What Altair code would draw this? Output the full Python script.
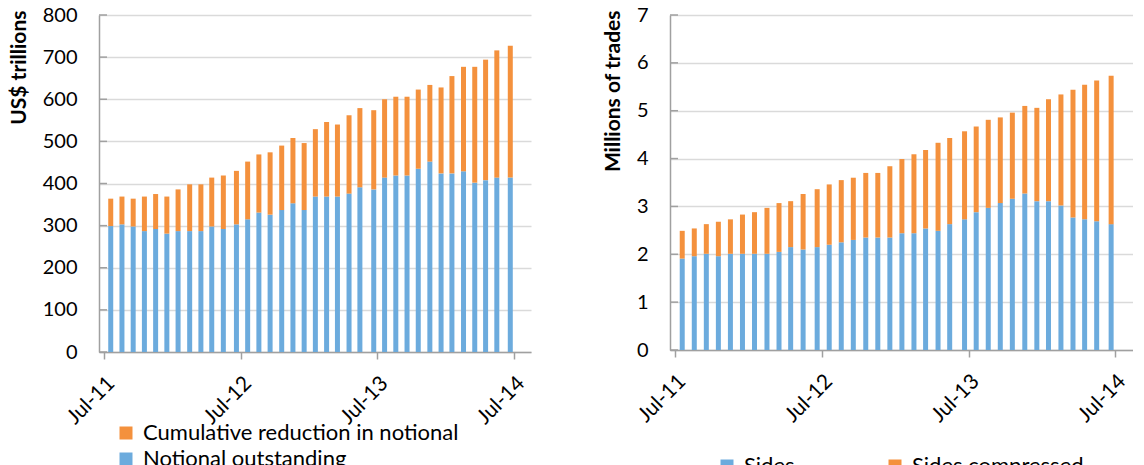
import altair as alt
import pandas as pd

# ---------------- data ----------------
dates = [
    "2011-07-19", "2011-08-18", "2011-09-17", "2011-10-17", "2011-11-16", "2011-12-16",
    "2012-01-15", "2012-02-15", "2012-03-16", "2012-04-14", "2012-05-15", "2012-06-19",
    "2012-07-19", "2012-08-18", "2012-09-17", "2012-10-18", "2012-11-17", "2012-12-17",
    "2013-01-16", "2013-02-15", "2013-03-16", "2013-04-16", "2013-05-15", "2013-06-21",
    "2013-07-20", "2013-08-19", "2013-09-18", "2013-10-18", "2013-11-18", "2013-12-18",
    "2014-01-16", "2014-02-16", "2014-03-18", "2014-04-16", "2014-05-16", "2014-06-21",
]
notional_outstanding = [299, 303, 298, 287, 292, 281, 287, 287, 287, 298, 292, 303,
                        315, 331, 326, 337, 353, 337, 369, 369, 369, 376, 391, 386,
                        414, 419, 419, 435, 452, 424, 424, 429, 402, 408, 414, 414]
cumulative_reduction = [65, 66, 66, 82, 83, 88, 99, 111, 111, 116, 127, 127,
                        137, 138, 148, 153, 155, 159, 160, 177, 171, 186, 188, 188,
                        186, 187, 187, 188, 182, 204, 231, 248, 275, 286, 302, 313]
sides = [1.91, 1.96, 2.01, 1.96, 2.01, 2.01, 2.01, 2.01, 2.05, 2.15, 2.10, 2.15,
         2.20, 2.25, 2.30, 2.35, 2.35, 2.35, 2.44, 2.44, 2.54, 2.49, 2.63, 2.73,
         2.88, 2.97, 3.07, 3.16, 3.27, 3.11, 3.11, 3.02, 2.77, 2.73, 2.69, 2.63]
sides_compressed = [0.58, 0.58, 0.62, 0.72, 0.72, 0.82, 0.87, 0.96, 1.02, 0.96, 1.16, 1.21,
                    1.26, 1.30, 1.30, 1.35, 1.35, 1.49, 1.55, 1.65, 1.64, 1.84, 1.80, 1.84,
                    1.79, 1.84, 1.79, 1.80, 1.83, 1.95, 2.13, 2.32, 2.67, 2.81, 2.94, 3.10]

left_series = ["Cumulative reduction in notional", "Notional outstanding"]
right_series = ["Sides", "Sides compressed"]
left_ticks = [0, 100, 200, 300, 400, 500, 600, 700, 800]
right_ticks = [0, 1, 2, 3, 4, 5, 6, 7]
tick_years = [2011, 2012, 2013, 2014]

FONT = "Lato"
BLUE = "#6CABDD"
ORANGE = "#F4913D"
AXIS_GREY = "#A0A0A0"
GRID_GREY = "#DADADA"

n = len(dates)
left_df = pd.DataFrame({
    "date": dates + dates,
    "value": notional_outstanding + cumulative_reduction,
    "series": [left_series[1]] * n + [left_series[0]] * n,
    "ord": [0] * n + [1] * n,
})
right_df = pd.DataFrame({
    "date": dates + dates,
    "value": sides + sides_compressed,
    "series": [right_series[0]] * n + [right_series[1]] * n,
    "ord": [0] * n + [1] * n,
})
left_tick_df = pd.DataFrame({"value": left_ticks})
right_tick_df = pd.DataFrame({"value": right_ticks})


def x_enc():
    return alt.X(
        "date:T",
        scale=alt.Scale(
            type="utc",
            domain=[alt.DateTime(year=2011, month=7, date=1, utc=True),
                    alt.DateTime(year=2014, month=8, date=2, utc=True)],
        ),
        axis=alt.Axis(
            values=[alt.DateTime(year=y, month=7, date=1, utc=True) for y in tick_years],
            labelExpr="utcFormat(datum.value, '%b-%y')",
            labelAngle=-45, labelAlign="right",
            labelBaseline="middle", labelPadding=21, labelOffset=7,
            labelFontSize=21, tickSize=7, tickColor=AXIS_GREY, tickWidth=1.5,
            domainColor=AXIS_GREY, domainWidth=1.5, grid=False, title=None,
            labelOverlap=False, labelFlush=False,
        ),
    )


def panel(df, tick_df, ticks, ymax, title, series, colors, legend):
    bars = alt.Chart(df).mark_bar(size=5).encode(
        x=x_enc(),
        y=alt.Y(
            "value:Q", stack=True, scale=alt.Scale(domain=[0, ymax], nice=False),
            axis=alt.Axis(
                values=ticks, title=title, titleAnchor="end", titleFontWeight="bold",
                titleFontSize=21, titlePadding=13, titleY=-5,
                labelFontSize=20, labelPadding=22,
                ticks=False, gridColor=GRID_GREY, gridWidth=1.5,
                domainColor=AXIS_GREY, domainWidth=1.5,
            ),
        ),
        color=alt.Color("series:N", scale=alt.Scale(domain=series, range=colors),
                        legend=legend),
        order=alt.Order("ord:Q", sort="ascending"),
    )
    inner_ticks = alt.Chart(tick_df).mark_rule(color=AXIS_GREY, strokeWidth=1.5).encode(
        y=alt.Y("value:Q"),
        x=alt.value(0),
        x2=alt.value(8),
    )
    return alt.layer(inner_ticks, bars)


left_legend = alt.Legend(
    title=None, orient="none", legendX=16, legendY=407, direction="vertical",
    symbolType="square", symbolSize=169, symbolStrokeWidth=0, labelFontSize=22,
    rowPadding=4, labelOffset=6, labelLimit=500,
)
right_legend = alt.Legend(
    title=None, orient="none", legendX=46, legendY=440, direction="horizontal",
    symbolType="square", symbolSize=169, symbolStrokeWidth=0, labelFontSize=22,
    columnPadding=89, labelOffset=6, labelLimit=500,
)

left = panel(left_df, left_tick_df, left_ticks, 800, "US$ trillions",
             left_series, [ORANGE, BLUE], left_legend).properties(width=432, height=337)
right = panel(right_df, right_tick_df, right_ticks, 7, "Millions of trades",
              right_series, [BLUE, ORANGE], right_legend).properties(width=463, height=335)

chart = alt.hconcat(left, right, spacing=139, bounds="flush").resolve_scale(
    color="independent", x="independent", y="independent"
).properties(
    padding={"left": 0, "top": -3, "right": 0, "bottom": 0}
).configure(
    font=FONT
).configure_view(
    stroke=None
).configure_axis(
    labelColor="#000000", titleColor="#000000", labelFont=FONT, titleFont=FONT
).configure_legend(
    labelColor="#000000", labelFont=FONT
)

chart.save("out.html", embed_options={"renderer": "svg", "actions": False})
